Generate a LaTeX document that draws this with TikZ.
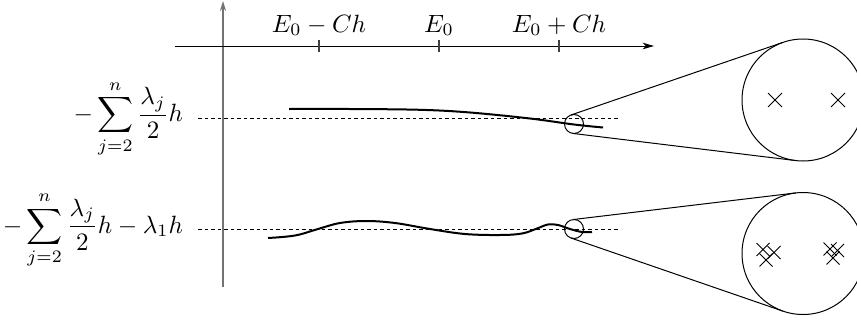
\documentclass[tikz,border=0pt]{standalone}
\usetikzlibrary{calc,arrows.meta,shapes.misc}
\begin{document}
\begin{tikzpicture}[x=0.4pt,y=-0.4pt,
  thinline/.style={line width=0.4pt},
  curveline/.style={line width=0.8pt},
  dashline/.style={line width=0.4pt,dash pattern=on 1.4pt off 1.2pt},
  ring/.style={circle,draw,line width=0.4pt,inner sep=0pt,minimum size=#1},
  xmk/.style={cross out,draw,line width=0.4pt,inner sep=0pt,minimum size=#1},
  tickmk/.style={line width=0.5pt,draw=black!75}]
\useasboundingbox (0,0) rectangle (857,320);
% axes
\coordinate (vb) at (223,287);
\coordinate (vt) at (223,1);
\draw[line width=0.6pt,draw=black!55,-{Stealth[length=4pt,width=2.4pt]}] (vb) -- (vt);
\coordinate (hl) at (175,46);
\coordinate (hr) at (654,46);
\draw[thinline,-{Stealth[length=4.5pt,width=2.6pt,inset=1.2pt]}] (hl) -- (hr);
% ticks
\foreach \xx/\nm in {319/t1,439/t2,559/t3}{
  \coordinate (\nm a) at (\xx,40);
  \coordinate (\nm b) at (\xx,52);
  \draw[tickmk] (\nm a) -- (\nm b);
}
\node[anchor=base,inner sep=0pt] (l1) at (319,32) {$E_0-Ch$};
\node[anchor=base,inner sep=0pt] (l2) at (439,32) {$E_0$};
\node[anchor=base,inner sep=0pt] (l3) at (559,32) {$E_0+Ch$};
% left labels
\node[anchor=base east,inner sep=0pt] (y1) at (183.5,121.5) {$\displaystyle-\sum_{j=2}^{n}\frac{\lambda_j}{2}h$};
\node[anchor=base east,inner sep=0pt] (y2) at (183.5,233) {$\displaystyle-\sum_{j=2}^{n}\frac{\lambda_j}{2}h-\lambda_1 h$};
% dashed levels
\coordinate (d1l) at (198,118); \coordinate (d1r) at (620,118);
\coordinate (d2l) at (198,229); \coordinate (d2r) at (620,229);
\draw[dashline] (d1l) -- (d1r);
\draw[dashline] (d2l) -- (d2r);
% curves
\draw[curveline] plot[smooth,tension=0.6] coordinates {(289,109) (350,109) (420,109.8) (470,112.5) (530,118.5) (574,124.5) (603,127.5)};
\draw[curveline] plot[smooth,tension=0.6] coordinates {(268,238) (295,235.5) (318,229) (340,223) (366,221) (395,223) (430,229) (465,234) (500,235) (522,233.5) (537,228.5) (548,224.5) (558,225) (570,229) (582,232) (592,232)};
% zoom circles
\node[ring=7.6pt] (s1) at (574,124) {};
\node[ring=48.8pt] (b1) at (803,100) {};
\node[ring=7.6pt] (s2) at (574,229) {};
\node[ring=48.8pt] (b2) at (803,253.5) {};
\foreach \s/\b in {s1/b1,s2/b2}{
  \draw[thinline] let \p1=($(\b.center)-(\s.center)$), \n1={veclen(\x1,\y1)},
      \n2={acos(-(24.4-3.8)/\n1)}, \n4={180-\n2} in
    ($(\s.center)!3.8pt!\n2:(\b.center)$) -- ($(\b.center)!24.4pt!-\n4:(\s.center)$)
    ($(\s.center)!3.8pt!-\n2:(\b.center)$) -- ($(\b.center)!24.4pt!\n4:(\s.center)$);
}
% crosses
\node[xmk=5.2pt] (x1) at (775,100) {};
\node[xmk=5.2pt] (x2) at (838,100) {};
\node[xmk=4.8pt] (x3) at (763,249.5) {};
\node[xmk=4.8pt] (x4) at (774,252.5) {};
\node[xmk=4.8pt] (x5) at (766,260) {};
\node[xmk=4.8pt] (x6) at (830,249) {};
\node[xmk=4.8pt] (x7) at (837.5,250.5) {};
\node[xmk=4.8pt] (x8) at (833,258) {};
\end{tikzpicture}
\end{document}
